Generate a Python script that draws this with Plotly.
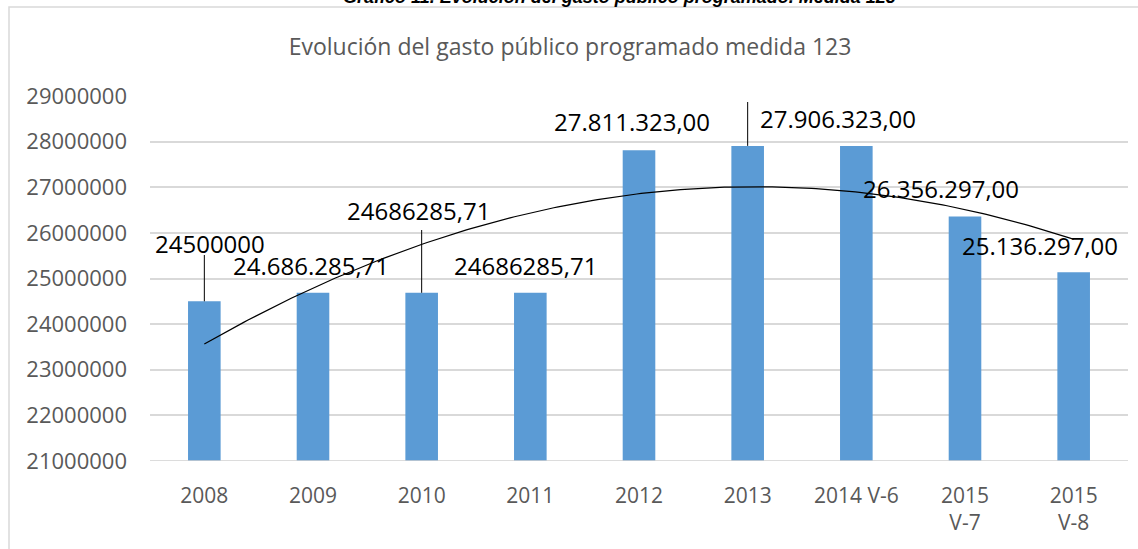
import numpy as np
import plotly.graph_objects as go

categories = ["2008", "2009", "2010", "2011", "2012", "2013", "2014 V-6", "2015<br>V-7", "2015<br>V-8"]
values = [24500000, 24686285.71, 24686285.71, 24686285.71, 27811323.00, 27906323.00, 27906323.00, 26356297.00, 25136297.00]
label_texts = ["24500000", "24.686.285,71", "24686285,71", "24686285,71", "27.811.323,00",
               "27.906.323,00", "27.906.323,00", "26.356.297,00", "25.136.297,00"]
y_ticks = list(range(21000000, 29000001, 1000000))

W, H = 1138, 549
L, R, T, B = 150, 10, 96, 88
PW, PH = W - L - R, H - T - B
YMIN, YMAX = 21000000, 29000000


def px_to_y(py):
    return YMAX - (py - T) / PH * (YMAX - YMIN)


def px_to_x(px):
    return (px - L) / PW * 9 - 0.5


xs = list(range(len(categories)))

fig = go.Figure()
fig.add_trace(go.Bar(x=xs, y=values, width=0.30, marker=dict(color="#5B9BD5", line=dict(width=0)),
                     showlegend=False, hoverinfo="skip"))

# polynomial (order 2) trendline as in Excel
coef = np.polyfit(np.arange(1, 10), values, 2)
tx = np.linspace(1, 9, 200)
ty = np.polyval(coef, tx)
fig.add_trace(go.Scatter(x=tx - 1, y=ty, mode="lines", line=dict(color="black", width=1.2),
                         showlegend=False, hoverinfo="skip"))

# label positions (pixel centers) as dragged in the original
label_px = [(210, 243), (311, 265), (418, 210), (525, 265), (632, 121),
            (735, 82), (838, 118), (941, 188), (1040, 245)]
leaders = {0: 255, 2: 230, 5: 102}

for i, (t, (cx, cy)) in enumerate(zip(label_texts, label_px)):
    fig.add_annotation(x=px_to_x(cx), y=px_to_y(cy), text=t, showarrow=False,
                       xref="x", yref="y", font=dict(family="Open Sans", size=24, color="black"),
                       xanchor="center", yanchor="middle")
    if i in leaders:
        fig.add_shape(type="line", xref="x", yref="y", x0=xs[i], x1=xs[i],
                      y0=px_to_y(leaders[i]), y1=values[i], line=dict(color="black", width=1))

# chart area border
fig.add_shape(type="rect", xref="paper", yref="paper",
              x0=(9 - L) / PW, x1=1.05, y0=-0.5, y1=(H - B - 7) / PH,
              line=dict(color="#d9d9d9", width=1.5), fillcolor="rgba(0,0,0,0)", layer="below")

# x axis baseline
fig.add_shape(type="line", xref="paper", yref="y", x0=0, x1=1, y0=YMIN, y1=YMIN,
              line=dict(color="#d0d0d0", width=1.5))

# cut-off document caption above the chart
fig.add_annotation(xref="paper", yref="paper", x=(619 - L) / PW, y=(H - B - 9) / PH,
                   text="<b><i>Gráfico 11. Evolución del gasto público programado. Medida 123</i></b>",
                   showarrow=False, xanchor="center", yanchor="bottom", yshift=0,
                   font=dict(family="Liberation Sans Narrow, Liberation Sans", size=18, color="black"))

fig.update_layout(
    width=W, height=H,
    margin=dict(l=L, r=R, t=T, b=B),
    paper_bgcolor="white", plot_bgcolor="white",
    title=dict(text="Evolución del gasto público programado medida 123",
               x=(570 - 0) / W, xanchor="center", y=1 - 47 / H, yanchor="middle",
               font=dict(family="Open Sans", size=23, color="#595959")),
    xaxis=dict(range=[-0.5, 8.5], tickmode="array", tickvals=xs, ticktext=categories,
               showgrid=False, zeroline=False, showline=False, ticks="",
               ticklabelstandoff=20,
               tickfont=dict(family="Open Sans", size=21, color="#595959")),
    yaxis=dict(range=[YMIN, YMAX], tickmode="array", tickvals=y_ticks,
               ticktext=[str(v) for v in y_ticks], showgrid=True, gridcolor="#d9d9d9",
               gridwidth=1.5, zeroline=False, showline=False, ticks="",
               ticklabelstandoff=22,
               tickfont=dict(family="Open Sans", size=22, color="#595959")),
    bargap=0.7,
)

fig.write_html("out.html", config={"displayModeBar": False},
               post_script="document.body.style.margin='0';document.body.style.padding='0';")
